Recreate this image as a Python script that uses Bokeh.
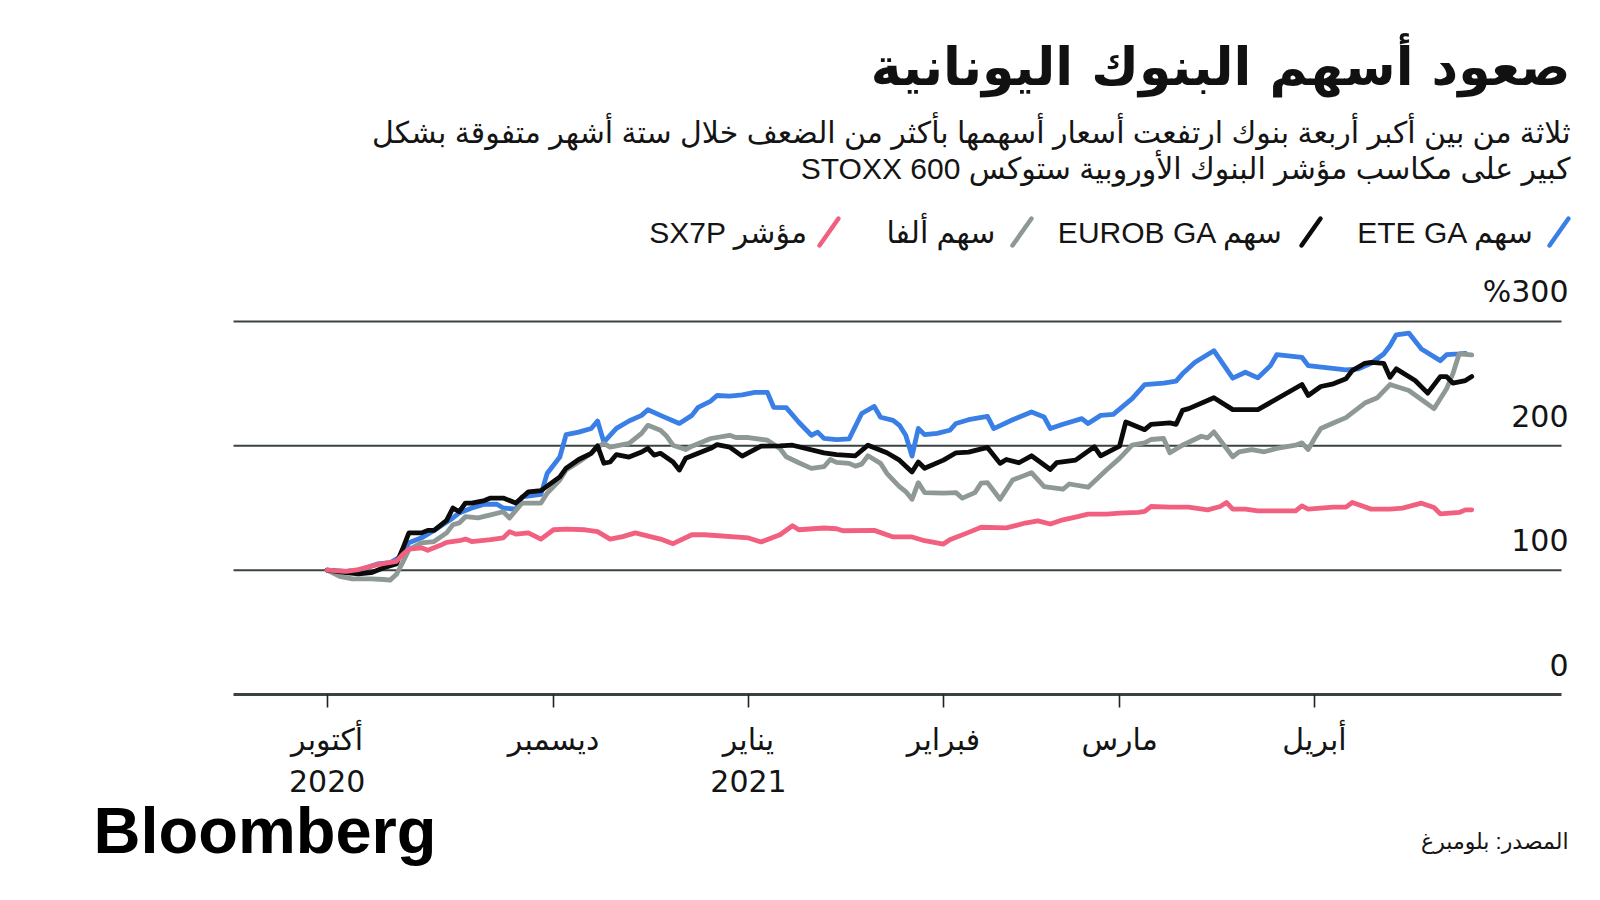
import pandas as pd
from bokeh.plotting import figure
from bokeh.layouts import column
from bokeh.models import Range1d, FixedTicker, Label, Arrow, ColumnDataSource
from bokeh.embed import file_html
from bokeh.resources import INLINE

# ---------------- data ----------------
START = "2020-10-26"          # first observation; offsets below are days after it

ete_days = [0,3,5,8,10,12,13,15,17,20,21,23,25,27,28,30,31,34,35,37,38,40,42,43,44,46,48,50,51,53,56,58,59,61,62,64,66,68,70,71,73,75,77,78,79,81,83,85,87,88,90,91,92,93,94,95,97,99,100,102,105,106,109,112,114,115,117,120,121,123,125,128,130,133,135,136,138,141,144,146,148,150,151,155,156,162,164,166,168,169,170,172,174,177,178,180,181]
ete_vals = [100,99,100,105,106,112,122,126,132,142,146,150,153,153,150,149,159,161,178,191,209,211,214,220,203,214,220,224.5,229,224.5,218,224.5,231,236,240.5,240,241,243,243,231,230.7,219,208.5,211,206,205,205.6,226,231.7,223,220.5,216.5,208.5,191.7,214,209,210,212.5,218,221,223.7,213.9,221,227.2,223.2,213.9,217.3,221.9,217.9,224.5,225.3,237.9,249.3,250.4,252,257.9,267.2,276.5,254.4,259.2,254.7,264.5,273.3,271.2,264.5,261.1,261.9,266.4,273.9,280.5,289.3,290.7,277.9,268.5,273.3,273.9,274.4]

eurob_days = [0,3,5,7,9,11,12,13,15,16,17,19,20,21,22,23,25,26,28,29,30,32,34,37,38,40,42,43,44,45,46,48,50,51,52,53,55,56,57,59,61,62,64,66,69,72,74,79,81,84,86,89,91,93,94,95,98,100,102,105,107,108,110,112,115,116,119,122,123,126,127,130,131,134,135,136,137,141,144,148,155,156,158,160,162,163,165,166,168,169,170,173,175,177,178,179,181,182]
eurob_vals = [100,98,97,98,102,105,117,130,130,132,132,140,150,147,154,154,156,158,158,156,154,163,164,175,182,189,194,200,186,187,193,191,195,198,192.5,194,187,180.5,190,194,198,201,199,191.7,199.7,200,200.5,194.4,193,192,200.5,194.4,188.5,179,187,182,188.5,194.4,195,198.7,185.9,189,186.4,192,181,186.4,188.5,199.2,192,199.7,219.2,213,217.3,218.4,217.3,228.5,229.9,238.7,229.1,229.1,249.3,240.5,247.7,249.9,253.9,260.5,266.4,267.2,266.4,255.2,261.9,252.5,242.4,255.7,255.7,250.4,252.5,255.7]

alpha_days = [0,2,4,7,9,10,11,12,13,15,17,19,20,21,22,24,26,28,29,31,32,34,35,37,38,40,42,43,44,45,48,50,51,53,54,55,57,58,61,64,65,67,70,72,73,75,77,79,80,81,83,84,85,86,88,89,90,91,92,93,94,95,98,100,101,103,104,105,107,109,112,114,117,118,121,124,126,128,130,131,133,134,136,139,140,141,144,145,147,149,151,154,155,156,157,158,160,162,165,167,169,172,176,178,179,180,182]
alpha_vals = [100,95,93,93,92.5,92,96.5,106,116.5,122,123,130,136.5,138,143,142,144.5,147,142,154,154,154,162,172.5,180.5,187,194,199,202,199,202,210,216.5,212.5,207.7,200.5,197,199.7,205.9,208.5,206.7,206.7,204.5,197.9,191.2,186.4,181.9,183.2,189,186.7,185.9,183.7,185.3,192,185.9,177.9,172.5,167.2,163.2,157,170.4,162.4,161.9,162.4,157.9,162.4,170,170.4,157,172.5,178.4,167.2,165.1,169.3,166.7,181,189.9,200.5,202.4,205.1,205.9,194.4,200.5,207.7,206.4,211.2,191.2,195.2,197,195.2,197.9,200.5,202.4,197,205.9,213.9,218.4,222.7,234.4,238.7,249.3,244.5,229.9,245.9,257.9,273.9,273.1]

sx7p_days = [0,3,5,8,11,12,13,15,16,18,19,21,22,23,26,28,29,30,32,34,36,38,41,43,45,47,49,53,55,58,60,67,69,72,74,75,79,81,82,87,90,93,95,98,99,102,104,108,111,113,115,117,119,121,124,126,129,130,131,134,137,140,142,143,144,146,148,154,155,156,160,162,163,166,169,171,174,176,177,180,181,182]
sx7p_vals = [100,99,100.5,104.5,107,112.5,117,118,116,120,122.4,123.7,125,123,124.5,126,131,129,130,125,132.5,133,132.5,131,125,127,130,125,121.3,128.5,128.5,125.9,122.7,128.5,135.7,132.5,133.9,133.3,131.7,132,126.7,126.7,123.7,121,124.5,130.4,134.5,134,137.9,139.7,137.1,140.5,142.7,145.1,145.1,145.9,146.4,147.2,151.2,150.7,150.7,148.5,151.2,154.4,149.1,149.1,147.7,147.7,151.7,149.1,150.7,150.7,154.4,149.1,149.1,149.9,153.9,150.4,145.3,146.4,148.5,148.5]

series_names = ["ETE GA سهم", "EUROB GA سهم", "سهم ألفا", "SX7P مؤشر"]
series_colors = ["#3a7fe6", "#0b0b0b", "#8e9996", "#f2607f"]

tick_dates = ["2020-10-26", "2020-12-01", "2021-01-01", "2021-02-01", "2021-03-01", "2021-04-01"]
tick_labels = ["أكتوبر", "ديسمبر", "يناير", "فبراير", "مارس", "أبريل"]
year_dates = ["2020-10-26", "2021-01-01"]
year_labels = ["2020", "2021"]
grid_values = [100, 200, 300]
y_ticks = [0, 100, 200, 300]
y_labels = ["0", "100", "200", "%300"]

title_text = "صعود أسهم البنوك اليونانية"
subtitle_1 = "ثلاثة من بين أكبر أربعة بنوك ارتفعت أسعار أسهمها بأكثر من الضعف خلال ستة أشهر متفوقة بشكل"
subtitle_2 = "STOXX 600 كبير على مكاسب مؤشر البنوك الأوروبية ستوكس"
source_text = "المصدر: بلومبرغ"
logo_text = "Bloomberg"

# ---------------- layout (page pixels) ----------------
W = 1584
FRAME_H = 694                  # main frame spans page y 0..694 (x axis at 694)
AXIS_H = 66                    # room for the month labels
FOOT_TOP = FRAME_H + AXIS_H
FOOT_H = 884 - FOOT_TOP
PLOT_L, PLOT_R = 233, 1561     # horizontal extent of gridlines / axis line
PX_PER_DAY = 6.289
JAN1_PX = 748
PX_PER_Y = 373 / 300.0

ref = pd.Timestamp("2021-01-01")
x0 = ref - pd.Timedelta(days=JAN1_PX / PX_PER_DAY)
x1 = ref + pd.Timedelta(days=(W - JAN1_PX) / PX_PER_DAY)
X0_MS = x0.value / 1e6
MS_PER_PX = 86400000.0 / PX_PER_DAY
Y_MAX = FRAME_H / PX_PER_Y

def X(page_x):
    return X0_MS + page_x * MS_PER_PX

def Y(page_y):
    return (FRAME_H - page_y) / PX_PER_Y

def ms(d):
    return int(pd.Timestamp(d).value // 10**6)

FONT = "Liberation Sans Narrow, Liberation Sans, DejaVu Sans"
NUM_FONT = "DejaVu Sans"
AR_FONT = "DejaVu Sans"
TXT = "#141414"
GRID = "#3b4242"

xr = Range1d(x0.to_pydatetime(), x1.to_pydatetime())
p = figure(frame_width=W, frame_height=FRAME_H, output_backend="svg", toolbar_location=None,
           x_axis_type="datetime", y_axis_location=None, title=None,
           x_range=xr, y_range=Range1d(0, Y_MAX),
           min_border_left=0, min_border_right=0,
           min_border_top=0, min_border_bottom=AXIS_H)
p.outline_line_color = None
p.grid.visible = False
p.background_fill_color = "white"
p.border_fill_color = "white"

# horizontal gridlines
p.segment(x0=[X(PLOT_L)] * len(grid_values), x1=[X(PLOT_R)] * len(grid_values),
          y0=grid_values, y1=grid_values, line_color=GRID, line_width=2)

start = pd.Timestamp(START)
def to_dates(days):
    return [start + pd.Timedelta(days=d) for d in days]

all_days = [ete_days, alpha_days, eurob_days, sx7p_days]
all_vals = [ete_vals, alpha_vals, eurob_vals, sx7p_vals]
order_colors = [series_colors[0], series_colors[2], series_colors[1], series_colors[3]]
for d, v, c in zip(all_days, all_vals, order_colors):
    src = ColumnDataSource(dict(x=to_dates(d), y=v))
    p.line("x", "y", source=src, line_color=c, line_width=4.8,
           line_join="round", line_cap="round")

# x axis (month labels)
tick_ms = [ms(t) for t in tick_dates]
ax = p.xaxis[0]
ax.ticker = FixedTicker(ticks=tick_ms)
ax.major_label_overrides = {m: l for m, l in zip(tick_ms, tick_labels)}
ax.bounds = (X(PLOT_L), X(PLOT_R))
ax.axis_line_color = GRID
ax.axis_line_width = 3
ax.major_tick_line_color = "#222222"
ax.major_tick_line_width = 1.6
ax.major_tick_out = 13
ax.major_tick_in = 0
ax.minor_tick_line_color = None
ax.major_label_standoff = 14
ax.major_label_text_font = NUM_FONT
ax.major_label_text_font_size = "30px"
ax.major_label_text_color = TXT

# y labels (right side, above gridlines)
for v, lab in zip(y_ticks, y_labels):
    p.add_layout(Label(x=X(1568), y=v + 30 / PX_PER_Y, text=lab,
                       text_align="right", text_baseline="alphabetic",
                       text_font=NUM_FONT, text_font_size="30px", text_color=TXT))

# title / subtitle
p.add_layout(Label(x=X(1570), y=Y(66), text=title_text, text_align="right",
                   text_baseline="alphabetic", text_font=AR_FONT, text_font_style="bold",
                   text_font_size="52px", text_color="#111111"))
p.add_layout(Label(x=X(1570), y=Y(132), text=subtitle_1, text_align="right",
                   text_baseline="alphabetic", text_font=FONT,
                   text_font_size="30px", text_color=TXT))
p.add_layout(Label(x=X(1570), y=Y(168), text=subtitle_2, text_align="right",
                   text_baseline="alphabetic", text_font=FONT,
                   text_font_size="30px", text_color=TXT))

# legend: slash + text, right to left
legend_text_right = [1534, 1283, 995, 807]
legend_slash_left = [1549, 1301, 1012, 819]
for name, col, tr, sl in zip(series_names, series_colors, legend_text_right, legend_slash_left):
    p.add_layout(Arrow(start=None, end=None, x_start=X(sl), y_start=Y(245),
                       x_end=X(sl + 19), y_end=Y(218), line_color=col,
                       line_width=4.5, line_cap="round"))
    p.add_layout(Label(x=X(tr), y=Y(232), text=name, text_align="right",
                       text_baseline="alphabetic", text_font=FONT,
                       text_font_size="30px", text_color=TXT))

# footer figure: year labels, logo and source (y = page pixels below FOOT_TOP)
f = figure(frame_width=W, frame_height=FOOT_H, output_backend="svg", toolbar_location=None,
           x_axis_location=None, y_axis_location=None, title=None,
           x_range=xr, y_range=Range1d(FOOT_H, 0), min_border=0)
f.outline_line_color = None
f.grid.visible = False
f.background_fill_color = "white"
f.border_fill_color = "white"
for d, lab in zip(year_dates, year_labels):
    f.add_layout(Label(x=ms(d), y=780 - FOOT_TOP, text=lab, text_align="center",
                       text_baseline="alphabetic", text_font=NUM_FONT,
                       text_font_size="30px", text_color=TXT))
f.add_layout(Label(x=X(93), y=830 - FOOT_TOP, text=logo_text, text_align="left",
                   text_baseline="alphabetic", text_font="Liberation Sans",
                   text_font_style="bold", text_font_size="65px", text_color="#000000"))
f.add_layout(Label(x=X(1568), y=841 - FOOT_TOP, text=source_text, text_align="right",
                   text_baseline="alphabetic", text_font=FONT,
                   text_font_size="22px", text_color=TXT))

layout = column(p, f, spacing=0)
open("out.html", "w").write(file_html(layout, INLINE))
